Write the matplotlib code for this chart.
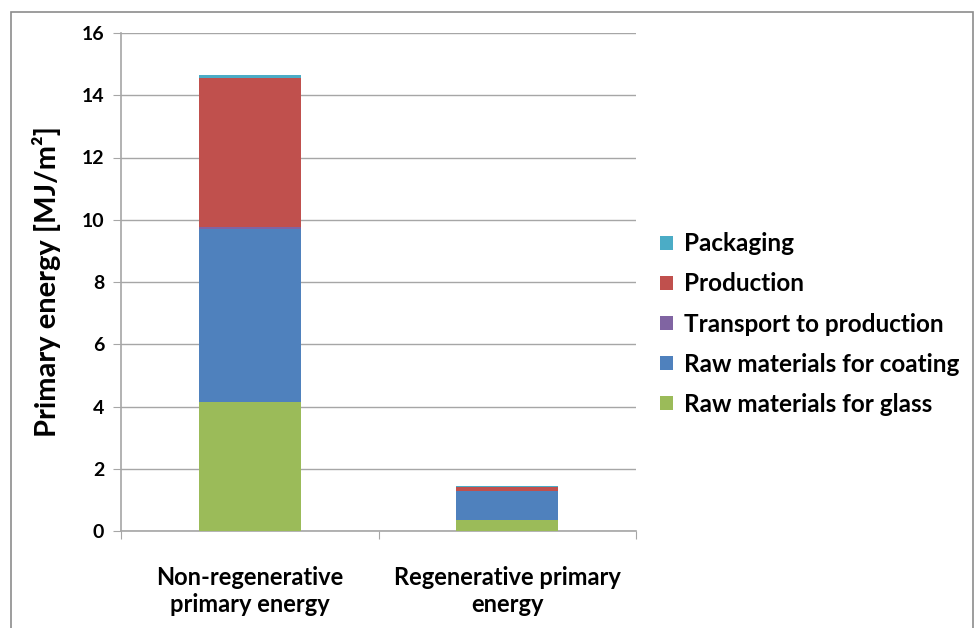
import matplotlib
matplotlib.use("Agg")
import matplotlib.pyplot as plt
from matplotlib.patches import Rectangle, Patch

categories = ["Non-regenerative\nprimary energy", "Regenerative primary\nenergy"]
series_names = ["Raw materials for glass", "Raw materials for coating",
                "Transport to production", "Production", "Packaging"]
glass = [4.15, 0.35]
coating = [5.56, 0.92]
transport = [0.06, 0.01]
production = [4.80, 0.14]
packaging = [0.09, 0.02]
colors = ["#9BBB59", "#4F81BD", "#8064A2", "#C0504D", "#4BACC6"]
y_ticks = [0, 2, 4, 6, 8, 10, 12, 14, 16]

series = [glass, coating, transport, production, packaging]
font = "Lato"

fig = plt.figure(figsize=(9.76, 6.28), dpi=100)
ax = fig.add_axes([121/976, 1 - 531/628, (636 - 121)/976, (531 - 33)/628])

x = list(range(len(categories)))
bottom = [0.0] * len(categories)
for vals, col, name in zip(series, colors, series_names):
    ax.bar(x, vals, width=0.395, bottom=bottom, color=col, label=name, zorder=3)
    bottom = [b + v for b, v in zip(bottom, vals)]

ax.set_xlim(-0.5, 1.5)
ax.set_ylim(0, 16)
ax.set_yticks(y_ticks)
ax.set_yticklabels([str(t) for t in y_ticks], fontsize=14, fontweight="bold",
                   family=font)
ax.yaxis.grid(True, color="#a6a6a6", linewidth=1, zorder=0)
ax.set_axisbelow(True)

ax.set_xticks([-0.5, 0.5, 1.5], minor=False)
ax.set_xticklabels([])
ax.set_xticks(x, minor=True)
ax.set_xticklabels(categories, minor=True, fontsize=17, fontweight="bold",
                   family=font, linespacing=1.25)
ax.tick_params(axis="x", which="minor", length=0, pad=25)
ax.tick_params(axis="x", which="major", length=6, color="#a6a6a6", direction="out")
ax.tick_params(axis="y", length=6, color="#a6a6a6", direction="out", pad=6)

for s in ["top", "right"]:
    ax.spines[s].set_visible(False)
for s in ["left", "bottom"]:
    ax.spines[s].set_color("#a6a6a6")
    ax.spines[s].set_linewidth(1.2)

ax.set_ylabel("Primary energy [MJ/m²]", fontsize=21, fontweight="bold",
              family=font, labelpad=15)

handles = [Patch(facecolor=c, label=n) for c, n in zip(colors, series_names)]
leg = fig.legend(handles[::-1], series_names[::-1], loc="center left",
                 bbox_to_anchor=(638/976, 1 - 324/628), frameon=False,
                 prop={"family": font, "weight": "bold", "size": 17.5},
                 handlelength=0.55, handleheight=0.55, handletextpad=0.45,
                 labelspacing=0.7)

fig.patches.append(Rectangle((11/976, -0.02), (973 - 11)/976, 1 - 12/628 + 0.02,
                             transform=fig.transFigure, fill=False,
                             edgecolor="#8c8c8c", linewidth=1.2))

fig.savefig("out.png", dpi=100)
